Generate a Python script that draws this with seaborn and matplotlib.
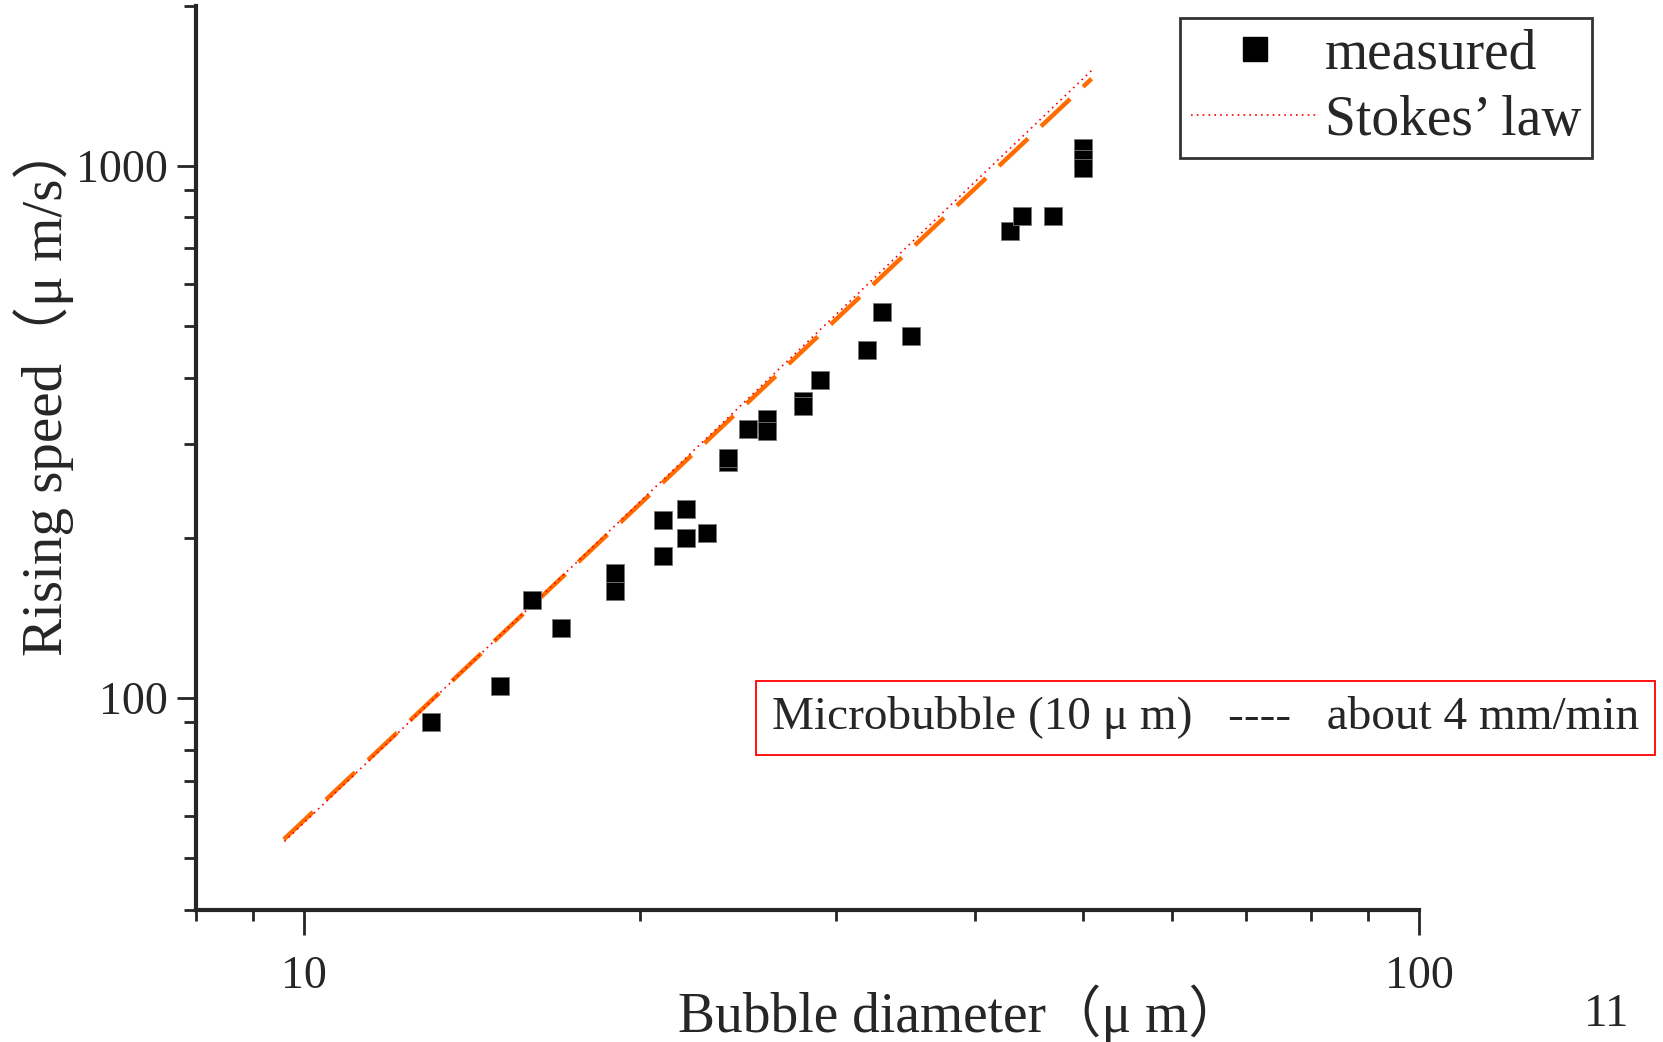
import matplotlib
matplotlib.use("Agg")
import matplotlib.pyplot as plt
import seaborn as sns
import pandas as pd
from matplotlib.lines import Line2D

# measured bubbles: diameter (um) and rising speed (um/s)
diameter = [13, 15, 16, 17, 19, 19, 21, 21, 22, 22, 23, 24, 24, 25, 26, 26,
            28, 28, 29, 32, 33, 35, 43, 44, 47, 50, 50, 50]
speed = [90.3, 105.2, 153.1, 135.3, 172.0, 159.1, 215.7, 185.3, 227.0, 200.3,
         204.7, 277.8, 282.0, 320.3, 334.8, 317.9, 361.9, 354.1, 396.1, 450.3,
         530.7, 479.7, 754.0, 805.0, 805.0, 1078.0, 1030.0, 990.0]

# Stokes' law (red dotted) and its fitted counterpart (orange dashed)
stokes_d = [9.6, 50.9]
stokes_v = [53.8, 1513.0]
fit_d = [9.59, 50.85]
fit_v = [54.3, 1457.0]

x_ticks = [10, 100]
y_ticks = [100, 1000]

sns.set_style("ticks")
serif = ["Liberation Serif", "Noto Sans CJK JP", "DejaVu Sans"]
plt.rcParams["font.family"] = serif

df = pd.DataFrame({"diameter": diameter, "speed": speed})

fig = plt.figure(figsize=(16.63, 10.42), dpi=100)
ax = fig.add_axes([0.1179, 0.1267, 0.7354, 0.868])

sns.lineplot(x=fit_d, y=fit_v, ax=ax, color="#ff6c00", lw=3.2,
             linestyle=(0, (9, 4)), estimator=None, sort=False)
sns.lineplot(x=stokes_d, y=stokes_v, ax=ax, color="red", lw=1.2,
             linestyle=(0, (1, 2.5)), estimator=None, sort=False)
sns.scatterplot(data=df, x="diameter", y="speed", ax=ax, marker="s", s=175,
                color="black", edgecolor="#777777", linewidth=0.6, zorder=3)

ax.set_xscale("log")
ax.set_yscale("log")
ax.set_xlim(8, 100)
ax.set_ylim(40, 2000)
ax.set_xticks(x_ticks)
ax.set_xticklabels([str(t) for t in x_ticks])
ax.set_yticks(y_ticks)
ax.set_yticklabels([str(t) for t in y_ticks])

for side in ["top", "right"]:
    ax.spines[side].set_visible(False)
for side in ["left", "bottom"]:
    ax.spines[side].set_linewidth(3)

ax.tick_params(axis="x", which="major", length=18, width=2, pad=15, labelsize=33)
ax.tick_params(axis="x", which="minor", length=8, width=2)
ax.tick_params(axis="y", which="major", length=14, width=2, pad=6, labelsize=33)
ax.tick_params(axis="y", which="minor", length=9, width=2)

ax.set_xlabel("")
ax.set_ylabel("")
fig.text(0.5775, 0.027, "Bubble diameter（μ m）", fontsize=40,
         ha="center", va="center")
fig.text(0.026, 0.627, "Rising speed（μ m/s）", fontsize=41,
         ha="center", va="center", rotation=90)

handles = [
    Line2D([], [], marker="s", color="black", linestyle="none", markersize=17),
    Line2D([], [], color="red", lw=1.2, linestyle=(0, (1, 2.5))),
]
leg = fig.legend(handles, ["measured", "Stokes’ law"], loc="upper left",
                 bbox_to_anchor=(0.7096, 0.983), fontsize=40, frameon=True,
                 fancybox=False, handlelength=2.3, handletextpad=0.1,
                 borderpad=0.2, labelspacing=0.25, borderaxespad=0)
leg.get_frame().set_edgecolor("black")
leg.get_frame().set_linewidth(2)

fig.text(0.4642, 0.311, "Microbubble (10 μ m)   ----   about 4 mm/min",
         fontsize=34, va="center", ha="left",
         bbox=dict(boxstyle="square,pad=0.33", facecolor="white",
                   edgecolor="red", linewidth=1.3))

fig.text(0.966, 0.006, "11", fontsize=34, ha="center", va="bottom")

fig.savefig("out.png", dpi=100)
plt.close(fig)
